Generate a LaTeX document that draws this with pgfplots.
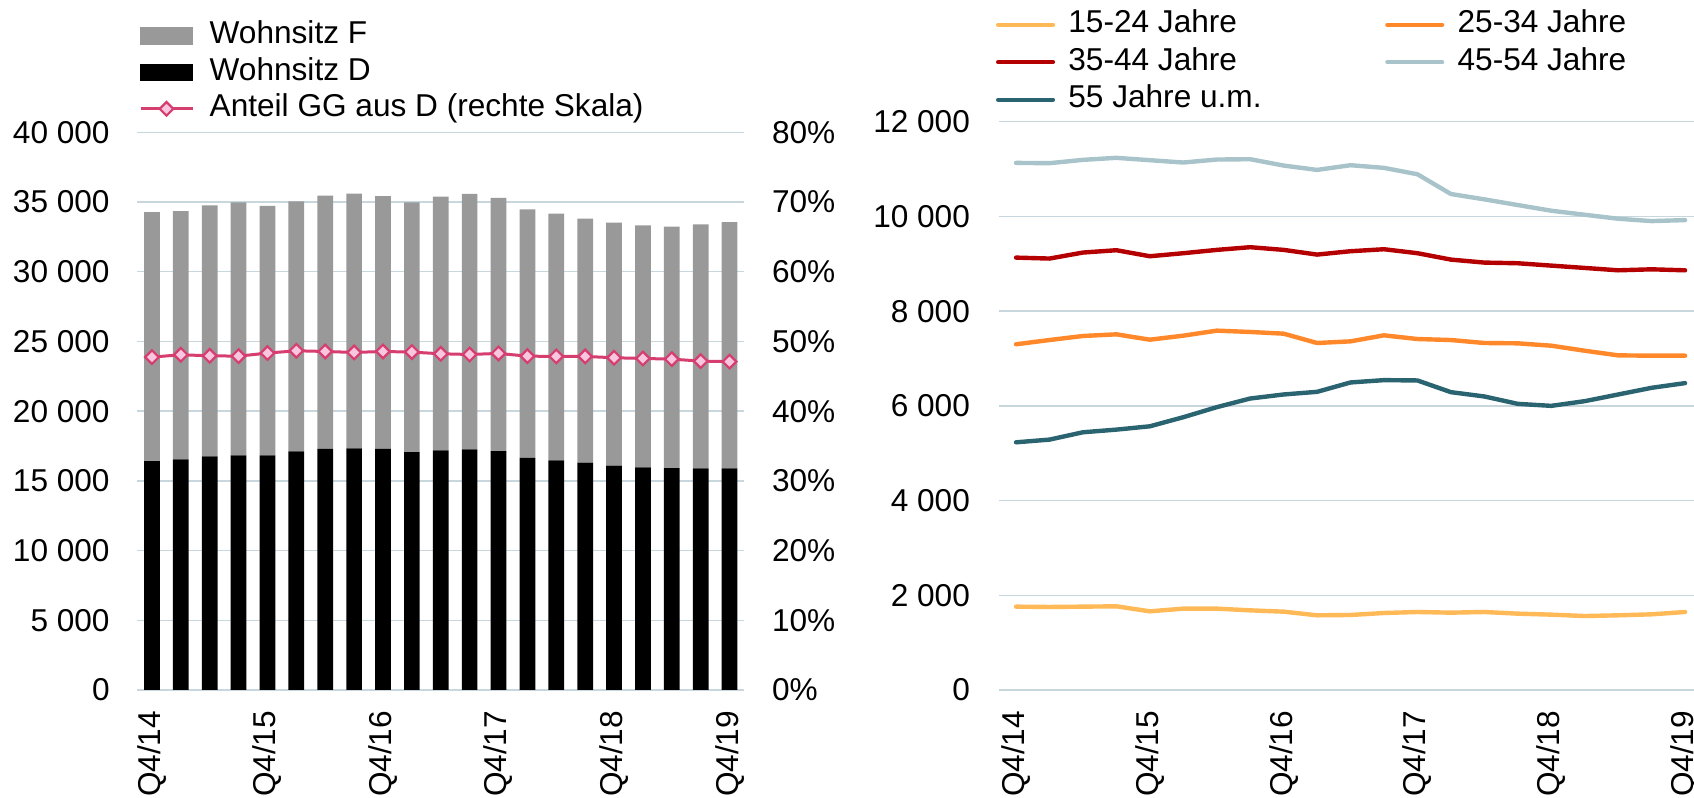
\documentclass[border=0pt]{standalone}
\usepackage{pgfplots}
\usepackage{pgfplotstable}
\pgfplotsset{compat=1.18}
\usepackage{fontspec}
\setmainfont{Liberation Sans}

\definecolor{gridc}{RGB}{200,214,222}
\definecolor{barF}{RGB}{153,153,153}
\definecolor{pinkline}{RGB}{214,62,112}
\definecolor{pinkfill}{RGB}{249,198,224}
\definecolor{cA}{RGB}{255,185,87}
\definecolor{cB}{RGB}{255,136,42}
\definecolor{cC}{RGB}{180,0,0}
\definecolor{cD}{RGB}{168,196,202}
\definecolor{cE}{RGB}{42,100,112}

\pgfplotstableread{
i D F P
0 16420 17860 47.75
1 16540 17810 48.09
2 16750 18010 47.94
3 16830 18150 47.89
4 16830 17890 48.33
5 17110 17940 48.66
6 17300 18150 48.56
7 17330 18270 48.42
8 17300 18130 48.56
9 17060 17910 48.47
10 17180 18200 48.23
11 17260 18320 48.13
12 17140 18150 48.28
13 16640 17840 47.89
14 16470 17690 47.85
15 16300 17500 47.85
16 16090 17430 47.66
17 15970 17360 47.56
18 15920 17310 47.46
19 15900 17500 47.18
20 15900 17650 47.10
}\bars

\pgfplotstableread{
i A B C D E
0 1760 7300 9130 11130 5230
1 1753 7390 9110 11124 5287
2 1760 7475 9237 11194 5442
3 1767 7510 9286 11237 5498
4 1661 7397 9159 11187 5568
5 1718 7482 9223 11138 5760
6 1718 7588 9293 11201 5972
7 1682 7560 9350 11208 6155
8 1654 7524 9293 11074 6240
9 1577 7327 9194 10982 6296
10 1584 7362 9265 11081 6494
11 1626 7489 9307 11025 6543
12 1647 7411 9223 10890 6536
13 1633 7390 9088 10473 6289
14 1647 7327 9025 10360 6198
15 1612 7320 9011 10240 6042
16 1591 7270 8961 10120 6000
17 1562 7164 8912 10035 6099
18 1577 7066 8862 9951 6240
19 1598 7059 8883 9901 6381
20 1647 7059 8862 9922 6480
}\lines

\pgfplotsset{
  base/.style={
    scale only axis,
    font=\fontsize{15.8}{18.6}\selectfont,
    /pgf/number format/assume math mode=true,
    /pgf/number format/1000 sep={\ },
    scaled y ticks=false,
    axis line style={draw=none},
    major tick length=0pt,
    tick style={draw=none},
    xmin=-0.5, xmax=20.5,
    grid style={gridc, line width=0.75pt},
    yticklabel style={inner sep=0pt},
    xticklabel style={rotate=90, anchor=east, inner sep=0pt},
    xticklabel shift=10.25pt,
    xtick={0,4,8,12,16,20},
    xticklabels={Q4/14,Q4/15,Q4/16,Q4/17,Q4/18,Q4/19},
    legend cell align=left,
  },
  lineleg/.style={legend image code/.code={\draw[mark repeat=2,mark phase=2,##1] plot coordinates {(0pt,0pt) (13pt,0pt) (26pt,0pt)};}},
  rlineleg/.style={legend image code/.code={\draw[##1] (0pt,0pt) -- (27.35pt,0pt);}},
}

\begin{document}
\begin{tikzpicture}
% left: bars
\begin{axis}[base,
  at={(68.75pt,54pt)}, anchor=south west,
  width=303.25pt, height=278.85pt,
  ymin=0, ymax=40000, ytick={0,5000,...,40000},
  ymajorgrids,
  yticklabel shift=13.75pt,
  ybar stacked, bar width=0.544,
]
\addplot[fill=black, draw=none] table[x=i,y=D]{\bars};
\addplot[fill=barF, draw=none] table[x=i,y=F]{\bars};
\end{axis}
% left: share line on right scale
\begin{axis}[base,
  at={(68.75pt,54pt)}, anchor=south west,
  width=303.25pt, height=278.85pt,
  ymin=0, ymax=80, ytick={0,10,...,80},
  xtick=\empty, xticklabels={},
  yticklabel pos=right,
  yticklabel={\pgfmathprintnumber{\tick}\%},
  yticklabel style={anchor=west},
  yticklabel shift=13.85pt,
  lineleg,
  legend style={at={(0.0025,1.1996)}, anchor=north west, draw=none, fill=none,
    inner sep=0pt, outer sep=0pt, row sep=3.2pt,
    nodes={inner sep=0pt, text height=11.5pt, text depth=3.5pt},
    /tikz/every odd column/.style={column sep=7.85pt},
    font=\fontsize{15.8}{18.6}\selectfont},
]
\addlegendimage{legend image code/.code={\fill[barF] (0pt,-4.2pt) rectangle (26pt,4.2pt);}}
\addlegendentry{Wohnsitz F}
\addlegendimage{legend image code/.code={\fill[black] (0pt,-4.2pt) rectangle (26pt,4.2pt);}}
\addlegendentry{Wohnsitz D}
\addplot[pinkline, line width=1.5pt, mark=square*, mark size=2.4pt,
  mark options={rotate=45, fill=pinkfill, draw=pinkline, line width=1.1pt}]
  table[x=i,y=P]{\bars};
\addlegendentry{Anteil GG aus D (rechte Skala)}
\end{axis}
% right panel
\begin{axis}[base,
  at={(499.65pt,54pt)}, anchor=south west,
  width=351.25pt, height=284.15pt,
  ymin=0, ymax=12000, ytick={0,2000,...,12000},
  ymajorgrids,
  yticklabel shift=14.5pt,
  rlineleg,
  legend columns=2,
  legend style={at={(-0.0047,1.197)}, anchor=north west, draw=none, fill=none,
    inner sep=0pt, outer sep=0pt, row sep=3.75pt,
    nodes={inner sep=0pt, text height=11.5pt, text depth=3.5pt},
    /tikz/every odd column/.style={column sep=6.65pt},
    /tikz/every even column/.style={column sep=61.8pt},
    font=\fontsize{15.8}{18.6}\selectfont},
]
\addplot[cA, line width=2.2pt, line cap=round, line join=round] table[x=i,y=A]{\lines};
\addlegendentry{15-24 Jahre}
\addplot[cB, line width=2.2pt, line cap=round, line join=round] table[x=i,y=B]{\lines};
\addlegendentry{25-34 Jahre}
\addplot[cC, line width=2.2pt, line cap=round, line join=round] table[x=i,y=C]{\lines};
\addlegendentry{35-44 Jahre}
\addplot[cD, line width=2.2pt, line cap=round, line join=round] table[x=i,y=D]{\lines};
\addlegendentry{45-54 Jahre}
\addplot[cE, line width=2.2pt, line cap=round, line join=round] table[x=i,y=E]{\lines};
\addlegendentry{55 Jahre u.m.}
\end{axis}
\pgfresetboundingbox
\path[use as bounding box] (0pt,0pt) rectangle (847pt,399pt);
\end{tikzpicture}
\end{document}
